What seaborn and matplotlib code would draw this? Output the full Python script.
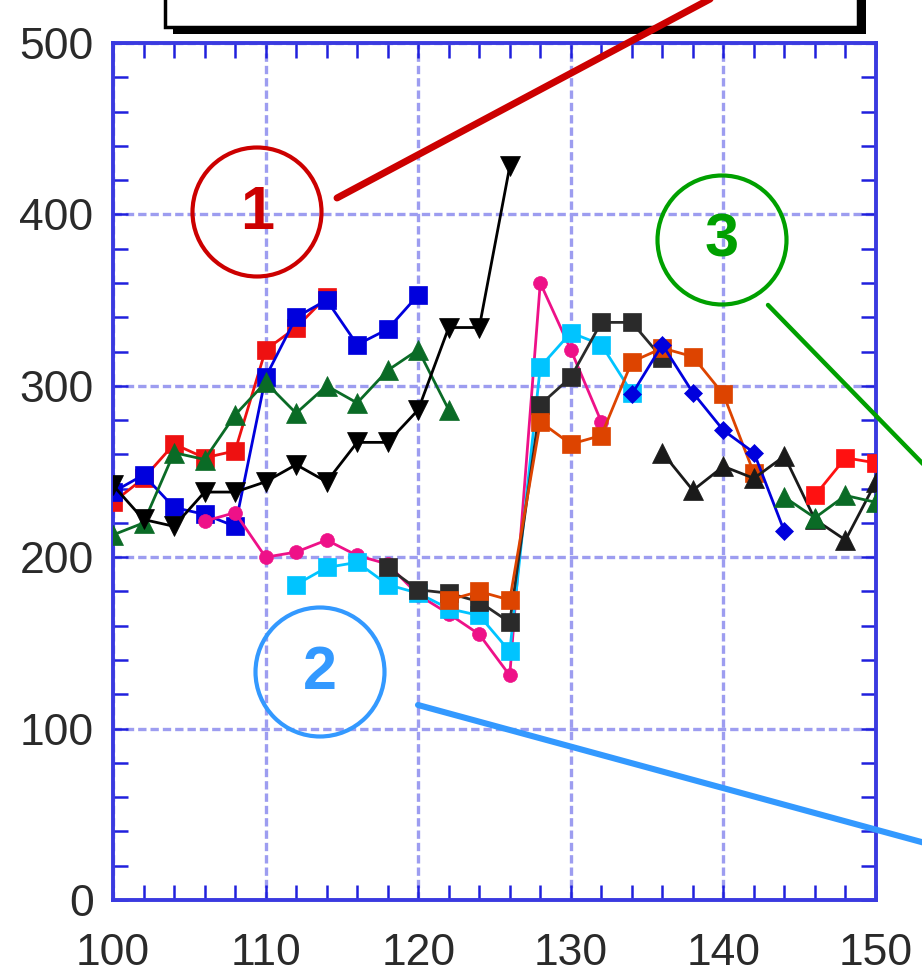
import numpy as np
import pandas as pd
import seaborn as sns
import matplotlib.pyplot as plt
from matplotlib.patches import Circle, Rectangle
from matplotlib.lines import Line2D

sns.set_theme(style="white")
plt.rcParams['font.family'] = ['Liberation Sans', 'DejaVu Sans']

# ---- series (x positions, y values) ----
red_x = [100, 102, 104, 106, 108, 110, 112, 114]
red_y = [232, 246, 266, 258, 262, 321, 334, 352]

blue_x = [100, 102, 104, 106, 108, 110, 112, 114, 116, 118, 120]
blue_y = [238, 248, 229, 225, 218, 305, 340, 350, 324, 333, 353]

green_x = [100, 102, 104, 106, 108, 110, 112, 114, 116, 118, 120, 122]
green_y = [213, 220, 261, 257, 283, 302, 284, 300, 290, 309, 321, 286]

black_x = [100, 102, 104, 106, 108, 110, 112, 114, 116, 118, 120, 122, 124, 126]
black_y = [242, 222, 218, 238, 238, 244, 254, 244, 267, 267, 286, 334, 334, 428]

pink_x = [106, 108, 110, 112, 114, 116, 118, 120, 122, 124, 126, 128, 130, 132]
pink_y = [221, 226, 200, 203, 210, 201, 196, 178, 167, 155, 131, 360, 321, 279]

cyan_x = [112, 114, 116, 118, 120, 122, 124, 126, 128, 130, 132, 134]
cyan_y = [184, 194, 197, 184, 179, 170, 166, 145, 311, 331, 324, 296]

dark_x = [118, 120, 122, 124, 126, 128, 130, 132, 134, 136]
dark_y = [194, 181, 179, 174, 162, 289, 305, 337, 337, 316]

orange_x = [122, 124, 126, 128, 130, 132, 134, 136, 138, 140, 142]
orange_y = [175, 180, 175, 279, 266, 271, 314, 322, 317, 295, 249]

navy_x = [134, 136, 138, 140, 142, 144]
navy_y = [295, 324, 296, 274, 261, 215]

black2_x = [136, 138, 140, 142, 144, 146, 148, 150]
black2_y = [261, 239, 253, 246, 259, 222, 210, 244]

red2_x = [146, 148, 150]
red2_y = [236, 258, 255]

green2_x = [144, 146, 148, 150]
green2_y = [235, 223, 236, 232]

x_ticks = [100, 110, 120, 130, 140, 150]
y_ticks = [0, 100, 200, 300, 400, 500]

series = [
    (red_x, red_y, '#ee1111', 's', 13.5),
    (blue_x, blue_y, '#0000dd', 's', 13.5),
    (green_x, green_y, '#0a6b26', '^', 14.5),
    (black_x, black_y, '#000000', 'v', 14.5),
    (pink_x, pink_y, '#ee1188', 'o', 10),
    (cyan_x, cyan_y, '#00c4ff', 's', 13.5),
    (dark_x, dark_y, '#2a2a2a', 's', 13.5),
    (orange_x, orange_y, '#dd4400', 's', 13.5),
    (navy_x, navy_y, '#0000dd', 'D', 9),
    (black2_x, black2_y, '#1a1a1a', '^', 14.5),
    (red2_x, red2_y, '#ff1111', 's', 13.5),
    (green2_x, green2_y, '#0a6b26', '^', 14.5),
]

W, H = 922, 980
fig = plt.figure(figsize=(W / 100, H / 100), dpi=100)
ax = fig.add_axes([113 / W, 1 - 900 / H, (876 - 113) / W, (900 - 43) / H])

for i, (xs, ys, col, mk, ms) in enumerate(series):
    df = pd.DataFrame({'x': xs, 'y': ys})
    sns.lineplot(data=df, x='x', y='y', ax=ax, color=col, marker=mk,
                 markersize=ms, markeredgecolor=col, markeredgewidth=0.5,
                 linewidth=2.0, zorder=3 + i * 0.1)

ax.set_xlim(100, 150)
ax.set_ylim(0, 500)
ax.set_xticks(x_ticks)
ax.set_yticks(y_ticks)
ax.set_xticks(np.arange(100, 151, 2), minor=True)
ax.set_yticks(np.arange(0, 501, 20), minor=True)
ax.set_xlabel('')
ax.set_ylabel('')

axis_blue = '#3a3ae0'
for s in ax.spines.values():
    s.set_color(axis_blue)
    s.set_linewidth(2.8)
    s.set_visible(True)

ax.grid(True, which='major', color='#9d9df0', linestyle=(0, (2.5, 1.2)),
        linewidth=2.4, zorder=0)
ax.tick_params(which='both', direction='in', top=True, right=True,
               bottom=True, left=True, color='#2020dd')
ax.tick_params(which='major', length=11, width=1.8, labelsize=32,
               labelcolor='#2a2a2a')
ax.tick_params(which='minor', length=11, width=1.8)
ax.tick_params(axis='x', which='major', pad=24)
ax.tick_params(axis='y', which='major', pad=14)

# ---- header box with drop shadow, clipped at the top edge ----
def px(x, y):
    return x / 100, (H - y) / 100

tr = fig.dpi_scale_trans
fig.patches.append(Rectangle(px(173, 34), (866 - 173) / 100, 0.6,
                             transform=tr, facecolor='black',
                             edgecolor='none', zorder=5))
fig.patches.append(Rectangle(px(165, 27), (858 - 165) / 100, 0.6,
                             transform=tr, facecolor='white',
                             edgecolor='black', linewidth=2.5, zorder=6))

# ---- numbered callouts ----
callouts = [
    ('1', (257, 212), '#cc0000', (337, 198), (712, -2), 5.0),
    ('2', (320, 672), '#3399ff', (418, 705), (925, 843), 4.4),
    ('3', (722, 240), '#00a000', (768, 305), (925, 466), 3.2),
]
for label, (cx, cy), col, p0, p1, lw in callouts:
    fig.patches.append(Circle(px(cx, cy), 0.645, transform=tr,
                              facecolor='none', edgecolor=col,
                              linewidth=3.0, zorder=7))
    fig.text(cx / W, 1 - (cy + 1) / H, label, color=col, fontsize=44,
             fontweight='bold', ha='center', va='center', zorder=8)
    fig.lines.append(Line2D([p0[0] / 100, p1[0] / 100],
                            [(H - p0[1]) / 100, (H - p1[1]) / 100],
                            transform=tr, color=col, linewidth=lw,
                            zorder=9))

fig.savefig('out.png', dpi=100)
